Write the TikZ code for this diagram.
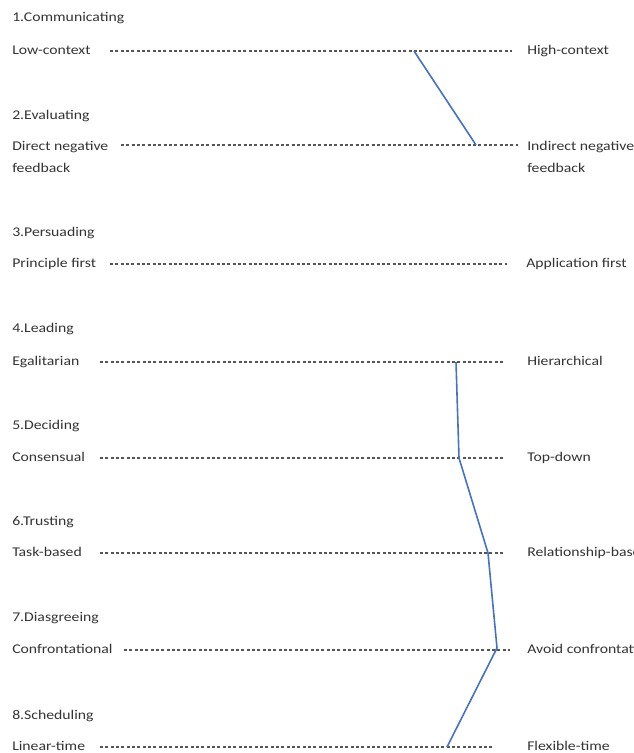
\documentclass[tikz,border=0pt]{standalone}
\usepackage{fontspec}
\setmainfont[FakeStretch=1.18]{Carlito}
\definecolor{txtgray}{HTML}{333333}
\definecolor{dashgray}{HTML}{555555}
\definecolor{profileblue}{HTML}{4472C4}
\begin{document}
\begin{tikzpicture}[x=0.75pt,y=-0.75pt,
  lbl/.style={anchor=west,inner sep=0pt,text=txtgray,font=\fontsize{10pt}{16.5pt}\selectfont,text height=7pt,text depth=2pt},
  lbl2/.style={anchor=west,inner sep=0pt,text=txtgray,font=\fontsize{10pt}{16.5pt}\selectfont,align=left},
  scale line/.style={draw=dashgray,line width=1pt,dash pattern=on 2.3pt off 1.7pt},
  profile/.style={draw=profileblue,line width=1.2pt,line join=round}]
\useasboundingbox (0,0) rectangle (633,753);
\clip (0,0) rectangle (633,753);

% headings
\node[lbl] (h1) at (12,18)  {1.Communicating};
\node[lbl] (h2) at (12,116) {2.Evaluating};
\node[lbl] (h3) at (12,233) {3.Persuading};
\node[lbl] (h4) at (12,329) {4.Leading};
\node[lbl] (h5) at (12,426) {5.Deciding};
\node[lbl] (h6) at (12,522) {6.Trusting};
\node[lbl] (h7) at (12,618) {7.Diasgreeing};
\node[lbl] (h8) at (12,716) {8.Scheduling};

% left poles
\node[lbl]  (l1) at (12,51)  {Low-context};
\node[lbl2] (l2) at (12,157) {Direct negative\\feedback};
\node[lbl]  (l3) at (12,264) {Principle first};
\node[lbl]  (l4) at (12,362) {Egalitarian};
\node[lbl]  (l5) at (12,458) {Consensual};
\node[lbl]  (l6) at (12,553) {Task-based};
\node[lbl]  (l7) at (12,650) {Confrontational};
\node[lbl]  (l8) at (12,747) {Linear-time};

% right poles
\node[lbl]  (r1) at (527,51)  {High-context};
\node[lbl2] (r2) at (527,157) {Indirect negative\\feedback};
\node[lbl]  (r3) at (526,264) {Application first};
\node[lbl]  (r4) at (527,362) {Hierarchical};
\node[lbl]  (r5) at (527,458) {Top-down};
\node[lbl]  (r6) at (527,553) {Relationship-based};
\node[lbl]  (r7) at (527,650) {Avoid confrontation};
\node[lbl]  (r8) at (527,747) {Flexible-time};

% scale line end points
\coordinate (a1) at (110,51);  \coordinate (b1) at (512,51);
\coordinate (a2) at (121,145); \coordinate (b2) at (518,145);
\coordinate (a3) at (110,264); \coordinate (b3) at (507,264);
\coordinate (a4) at (100,362); \coordinate (b4) at (503,362);
\coordinate (a5) at (100,458); \coordinate (b5) at (503,458);
\coordinate (a6) at (100,553); \coordinate (b6) at (503,553);
\coordinate (a7) at (124,650); \coordinate (b7) at (510,650);
\coordinate (a8) at (100,747); \coordinate (b8) at (493,747);

\foreach \i in {1,...,8} \draw[scale line] (a\i) -- (b\i);

% profile points
\coordinate (p1) at (414,51);
\coordinate (p2) at (476,145);
\coordinate (p4) at (456,362);
\coordinate (p5) at (459,458);
\coordinate (p6) at (488,553);
\coordinate (p7) at (497,648);
\coordinate (p8) at (447,747);

\draw[profile] (p1) -- (p2);
\draw[profile] (p4) -- (p5) -- (p6) -- (p7) -- (p8);
\end{tikzpicture}
\end{document}
